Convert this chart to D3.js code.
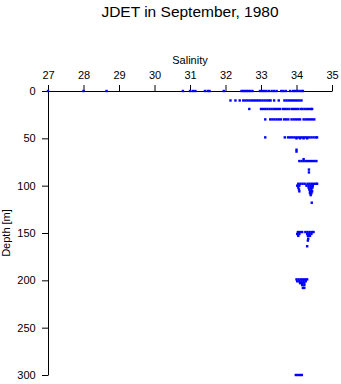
<!DOCTYPE html>
<html>
<head>
<meta charset="utf-8">
<script src="https://cdn.jsdelivr.net/npm/d3@7/dist/d3.min.js"></script>
<style>
  body { margin: 0; background: #fff; }
  svg { display: block; font-family: "Liberation Sans", Arial, sans-serif; }
</style>
</head>
<body>
<svg id="chart" width="341" height="384"></svg>
<script>
const titleText = "JDET in September, 1980";
const xLabel = "Salinity";
const yLabel = "Depth [m]";
const xTicks = [27, 28, 29, 30, 31, 32, 33, 34, 35];
const yTicks = [0, 50, 100, 150, 200, 250, 300];

// Observations: [salinity, depth]
const surface = [
  [27.0,0],[28.0,0],[28.65,0],[30.8,0],[31.0,0],[31.08,0],[31.15,0],[31.42,0],[31.5,0],[31.55,0],[31.95,0],
  [32.45,0],[32.5,0],[32.55,0],[32.6,0],[32.65,0],[32.7,0],[32.76,0],[32.97,0],[33.03,0],[33.09,0],[33.15,0],
  [33.22,0],[33.3,0],[33.37,0],[33.44,0],[33.57,0],[33.63,0],[33.7,0],[33.82,0],[33.9,0],[33.96,0],[34.02,0],
  [34.08,0],[34.14,0],[34.18,0]
];
const depth10 = [
  [32.14,10],[32.28,10],[32.4,10],[32.5,10],[32.56,10],[32.62,10],[32.68,10],[32.74,10],[32.8,10],[32.86,10],
  [32.92,10],[32.98,10],[33.04,10],[33.1,10],[33.16,10],[33.22,10],[33.27,10],[33.37,10],[33.5,10],[33.66,10],
  [33.72,10],[33.78,10],[33.84,10],[33.9,10],[33.96,10],[34.02,10],[34.08,10],[34.14,10]
];
const depth20 = [
  [32.67,19],[33.0,19],[33.06,19],[33.12,19],[33.18,19],[33.24,19],[33.3,19],[33.36,19],[33.42,19],[33.48,19],
  [33.54,19],[33.62,19],[33.68,19],[33.74,19],[33.8,19],[33.87,19],[33.93,19],[33.99,19],[34.05,19],[34.12,19],
  [34.17,19],[34.23,19],[34.29,19],[34.35,19],[34.41,19],[34.44,19]
];
const depth30 = [
  [33.12,30],[33.26,30],[33.32,30],[33.38,30],[33.44,30],[33.5,30],[33.56,30],[33.65,30],[33.71,30],[33.77,30],
  [33.86,30],[33.92,30],[33.98,30],[34.04,30],[34.1,30],[34.2,30],[34.26,30],[34.32,30],[34.38,30],[34.44,30],[34.5,30]
];
const depth50 = [
  [33.12,49],[33.67,49],[33.76,49],[33.82,49],[33.88,49],[33.94,49],[34.0,49],[34.06,49],[34.12,49],[34.18,49],
  [34.24,49],[34.3,49],[34.36,49],[34.42,49],[34.48,49],[34.54,49],[34.58,49],[34.0,50],[34.1,50],[34.2,50],[34.3,50]
];
const depth75 = [
  [34.0,62],[34.0,64],[34.2,72],[34.08,74],[34.14,74],[34.2,74],[34.26,74],[34.32,74],[34.38,74],[34.44,74],
  [34.5,74],[34.56,74],[34.35,83],[34.35,86]
];
const depth100 = [
  [34.05,98],[34.11,98],[34.17,98],[34.23,98],[34.31,98],[34.37,98],[34.43,98],[34.49,98],[34.55,98],[34.58,98],
  [34.02,100],[34.08,100],[34.28,100],[34.34,100],[34.4,100],[34.46,100],[34.05,102],[34.34,102],[34.4,102],
  [34.45,102],[34.07,104],[34.36,104],[34.42,104],[34.08,106],[34.38,106],[34.44,106],[34.38,108],[34.42,108],
  [34.4,110],[34.43,118]
];
const depth150 = [
  [34.04,149],[34.1,149],[34.16,149],[34.25,149],[34.31,149],[34.37,149],[34.43,149],[34.48,149],
  [34.02,151],[34.08,151],[34.3,151],[34.36,151],[34.42,151],[34.05,153],[34.32,153],[34.38,153],
  [34.33,156],[34.32,158],[34.3,164]
];
const depth200 = [
  [34.0,199],[34.06,199],[34.12,199],[34.18,199],[34.24,199],[34.3,199],[34.02,201],[34.08,201],[34.14,201],
  [34.2,201],[34.26,201],[34.1,203],[34.16,203],[34.22,203],[34.16,205],[34.22,205],[34.18,208],[34.22,208]
];
const depth300 = [[33.98,300],[34.04,300],[34.1,300],[34.15,300]];

const observations = [].concat(surface, depth10, depth20, depth30, depth50, depth75, depth100, depth150, depth200, depth300);

const svg = d3.select("#chart");
const x = d3.scaleLinear().domain([27, 35]).range([48, 332]);
const y = d3.scaleLinear().domain([0, 300]).range([91, 375]);

svg.append("text")
  .attr("x", 190).attr("y", 17)
  .attr("text-anchor", "middle")
  .attr("font-size", 15.5)
  .text(titleText);

svg.append("text")
  .attr("x", 190).attr("y", 64)
  .attr("text-anchor", "middle")
  .attr("font-size", 11)
  .text(xLabel);

svg.append("text")
  .attr("transform", "translate(10,233) rotate(-90)")
  .attr("text-anchor", "middle")
  .attr("font-size", 11)
  .text(yLabel);

const xAxis = svg.append("g")
  .attr("transform", "translate(0,91)")
  .call(d3.axisTop(x).tickValues(xTicks).tickFormat(d3.format("d")).tickSize(6).tickSizeOuter(0));
xAxis.select(".domain").attr("stroke", "#000");
xAxis.selectAll("text").attr("font-size", 11).attr("font-family", "Liberation Sans, Arial, sans-serif").attr("fill", "#000").attr("dy", "-0.3em");

const yAxis = svg.append("g")
  .attr("transform", "translate(48,0)")
  .call(d3.axisLeft(y).tickValues(yTicks).tickFormat(d3.format("d")).tickSize(6).tickSizeOuter(0));
yAxis.selectAll("text").attr("font-size", 11).attr("font-family", "Liberation Sans, Arial, sans-serif").attr("fill", "#000").attr("dx", "-0.3em");

const s = 2.4;
svg.append("g").selectAll("rect")
  .data(observations)
  .join("rect")
  .attr("x", d => x(d[0]) - s / 2)
  .attr("y", d => y(d[1]) - s / 2)
  .attr("width", s)
  .attr("height", s)
  .attr("fill", "#0000ff");
</script>
</body>
</html>
